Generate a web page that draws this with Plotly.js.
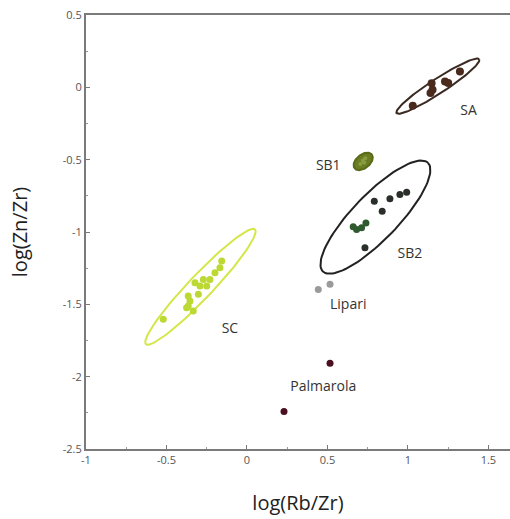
<!DOCTYPE html>
<html><head><meta charset="utf-8">
<script src="https://cdn.plot.ly/plotly-3.0.1.min.js"></script>
<style>body{margin:0;background:#fff}#g{width:510px;height:519px}</style>
</head><body><div id="g"></div>
<script>
// Data
const saX = [1.03, 1.14, 1.153, 1.147, 1.23, 1.25, 1.323];
const saY = [-0.128, -0.04, -0.017, 0.029, 0.04, 0.03, 0.109];
const sb1X = [0.705, 0.72, 0.735, 0.728];
const sb1Y = [-0.53, -0.505, -0.49, -0.52];
const sb2X = [0.791, 0.888, 0.95, 0.992, 0.84, 0.66, 0.681, 0.712, 0.739, 0.733];
const sb2Y = [-0.788, -0.771, -0.741, -0.725, -0.857, -0.964, -0.983, -0.971, -0.937, -1.109];
const scX = [-0.52, -0.375, -0.354, -0.365, -0.302, -0.292, -0.323, -0.271, -0.25, -0.23, -0.199, -0.168, -0.157, -0.334, -0.365];
const scY = [-1.603, -1.523, -1.477, -1.443, -1.431, -1.374, -1.35, -1.328, -1.374, -1.328, -1.281, -1.247, -1.201, -1.546, -1.511];
const lipariX = [0.443, 0.516];
const lipariY = [-1.397, -1.362];
const palmX = [0.516, 0.23];
const palmY = [-1.907, -2.24];

// Ellipse parameters: [centerX, centerY, halfMajorX, halfMajorY, minorRatio]
const ellSA  = [1.186, 0.008, 0.2565, 0.186, 0.15];
const ellSB1 = [0.722, -0.512, 0.053, 0.048, 0.62];
const ellSB2 = [0.798, -0.897, 0.326, 0.376, 0.30];
const ellSC  = [-0.289, -1.379, 0.3385, 0.3966, 0.15];

const labels = ["SA", "SB1", "SB2", "SC", "Lipari", "Palmarola"];
const labelX = [1.376, 0.505, 1.012, -0.106, 0.629, 0.474];
const labelY = [-0.167, -0.55, -1.155, -1.672, -1.511, -2.075];

const xTicks = [-1, -0.5, 0, 0.5, 1, 1.5];
const xTickText = ["-1", "-0.5", "0", "0.5", "1", "1.5"];
const yTicks = [0.5, 0, -0.5, -1, -1.5, -2, -2.5];
const yTickText = ["0.5", "0", "-0.5", "-1", "-1.5", "-2", "-2.5"];

// pixel per unit (plot scales) used to keep ellipses perpendicular on screen
const kx = 161, ky = 145;
function ellipse(p) {
  const [cx, cy, ux, uy, r] = p;
  const vx = uy * ky * r / kx, vy = -ux * kx * r / ky;
  const xs = [], ys = [];
  for (let i = 0; i <= 100; i++) {
    const t = 2 * Math.PI * i / 100;
    xs.push(cx + Math.cos(t) * ux + Math.sin(t) * vx);
    ys.push(cy + Math.cos(t) * uy + Math.sin(t) * vy);
  }
  return [xs, ys];
}
function ellTrace(p, color, w, fill) {
  const [xs, ys] = ellipse(p);
  const t = {x: xs, y: ys, mode: 'lines', line: {color: color, width: w}, hoverinfo: 'skip', showlegend: false};
  if (fill) { t.fill = 'toself'; t.fillcolor = fill; }
  return t;
}
function pts(x, y, color, size) {
  return {x: x, y: y, mode: 'markers', marker: {color: color, size: size}, showlegend: false};
}
const sb2Colors = ['#2a2f2a','#2a2f2a','#2a2f2a','#2a2f2a','#2a2f2a','#2f5a2f','#2f5a2f','#2f5a2f','#2f5a2f','#2a2f2a'];

const traces = [
  ellTrace(ellSA, '#3a2a22', 2),
  ellTrace(ellSB2, '#222222', 2),
  ellTrace(ellSC, '#d4e648', 2),
  ellTrace(ellSB1, '#5a6b18', 2, '#6b7d22'),
  pts(saX, saY, '#4a2a1c', 8),
  pts(sb1X, sb1Y, '#8c9c40', 4),
  pts(sb2X, sb2Y, sb2Colors, 7),
  pts(scX, scY, '#bcd832', 7),
  pts(lipariX, lipariY, '#9a9a9a', 7),
  pts(palmX, palmY, '#4a1020', 7),
  {x: labelX, y: labelY, mode: 'text', text: labels, textfont: {family: 'Open Sans', size: 14, color: '#333'}, showlegend: false, hoverinfo: 'skip'}
];

const axisCommon = {
  showgrid: false, zeroline: false, showline: true, linecolor: '#7a7a7a', linewidth: 2,
  ticks: 'inside', ticklen: 4, tickcolor: '#7a7a7a', tickwidth: 1,
  tickfont: {family: 'Open Sans', size: 11, color: '#555'},
  minor: {ticks: 'inside', ticklen: 2, tickcolor: '#9a9a9a', dtick: 0.25}
};
const layout = {
  width: 510, height: 519,
  margin: {l: 86, r: 0, t: 15, b: 70},
  paper_bgcolor: '#fff', plot_bgcolor: '#fff',
  showlegend: false,
  xaxis: Object.assign({}, axisCommon, {
    range: [-1, 1.634], tickmode: 'array', tickvals: xTicks, ticktext: xTickText, mirror: true,
    title: {text: 'log(Rb/Zr)', font: {family: 'Open Sans', size: 20, color: '#222'}, standoff: 30}
  }),
  yaxis: Object.assign({}, axisCommon, {
    range: [-2.5, 0.5], tickmode: 'array', tickvals: yTicks, ticktext: yTickText,
    title: {text: 'log(Zn/Zr)', font: {family: 'Open Sans', size: 20, color: '#222'}, standoff: 30}
  })
};
Plotly.newPlot('g', traces, layout, {staticPlot: true});
</script></body></html>
